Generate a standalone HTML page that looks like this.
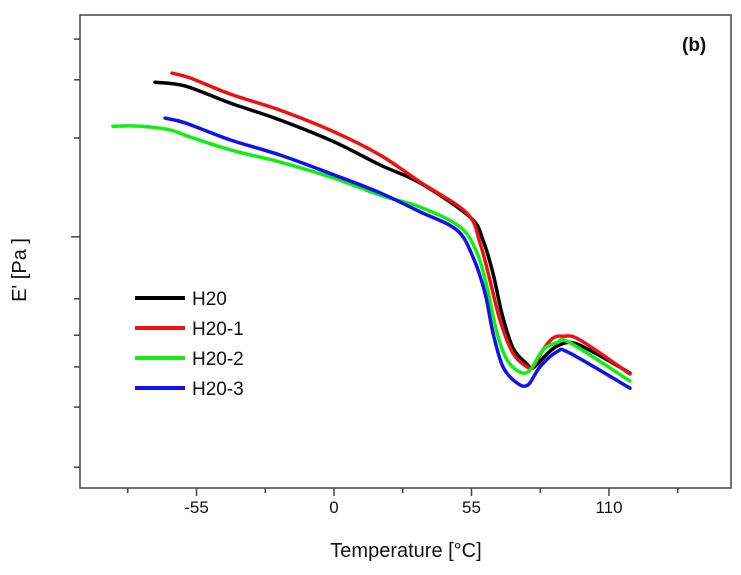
<!DOCTYPE html>
<html><head><meta charset="utf-8"><style>
body{margin:0;background:#fff;}
svg text{font-family:"Liberation Sans",sans-serif;fill:#111;}
</style></head><body>
<svg id="chart" width="741" height="570" viewBox="0 0 741 570" xmlns="http://www.w3.org/2000/svg">
<rect x="0" y="0" width="741" height="570" fill="#fff"/>
<rect x="80" y="15" width="651" height="473" fill="none" stroke="#444" stroke-width="1.5"/>
<g id="axes"></g>
<g id="series"></g>
<text x="682" y="51" font-size="19" font-weight="bold">(b)</text>
<text x="406" y="557" font-size="20" text-anchor="middle">Temperature [°C]</text>
<text transform="translate(26,270) rotate(-90)" font-size="20" text-anchor="middle">E' [Pa ]</text>
<g id="legend"></g>
</svg>
<script>
const xTickValues=[-55,0,55,110];
const xMinorTicks=[-82.5,-27.5,27.5,82.5,137.5];
const yTickValues=[94.9,86.3,74.0,53.1,40.0,32.3,25.6,17.1,4.4];
const seriesNames=["H20","H20-1","H20-2","H20-3"];
const seriesColors=["#000000","#ee1111","#11ee11","#1111ee"];
const tempH20=[-71.6,-59.6,-41.6,-21.6,0,18.4,34.4,54.4,59.6,63.6,67.2,71.6,77.2,79.6,85.2,89.2,95.6,105.2,118.4];
const valH20=[85.8,85.0,81.4,77.8,73.2,68.3,64.5,57.3,52.4,45.4,36.8,29.6,26.2,25.4,28.3,30.0,30.7,28.3,24.3];
const tempH201=[-64.8,-57.6,-41.6,-21.6,0,18.4,34.4,53.2,58.4,62.4,66.4,71.6,77.2,79.6,83.6,87.6,91.6,98.4,118.4];
const valH201=[87.7,86.7,83.3,79.9,75.3,70.4,64.7,58.1,51.8,43.9,35.5,28.5,25.6,25.6,29.2,31.7,32.1,31.3,24.1];
const tempH202=[-88.4,-77.6,-65.6,-57.6,-41.6,-21.6,0,18.4,34.4,50.4,57.2,61.2,65.2,69.2,74.4,78.4,83.6,89.2,94.4,118.4];
const valH202=[76.5,76.5,75.7,74.2,71.5,68.9,65.5,61.9,59.4,55.2,49.7,42.5,32.8,27.1,24.5,24.9,29.2,30.7,30.7,22.6];
const tempH203=[-67.6,-59.6,-41.6,-21.6,0,18.4,34.4,49.2,55.6,60.4,63.6,67.6,73.2,77.6,82.4,89.2,94.4,118.4];
const valH203=[78.2,77.2,73.6,70.4,66.2,62.4,58.4,54.5,48.8,41.2,32.8,25.6,22.2,21.8,25.6,28.8,28.5,21.1];

const NS="http://www.w3.org/2000/svg";
function xS(t){return 334+t*2.5;}
function yS(v){return 488-v*4.73;}
function mk(tag,attrs,parent){const e=document.createElementNS(NS,tag);for(const k in attrs)e.setAttribute(k,attrs[k]);parent.appendChild(e);return e;}
function smoothPath(p){
  let d='M'+p[0][0].toFixed(1)+','+p[0][1].toFixed(1);
  for(let i=0;i<p.length-1;i++){
    const p0=p[i-1]||p[i],p1=p[i],p2=p[i+1],p3=p[i+2]||p2;
    const c1=[p1[0]+(p2[0]-p0[0])/6,p1[1]+(p2[1]-p0[1])/6];
    const c2=[p2[0]-(p3[0]-p1[0])/6,p2[1]-(p3[1]-p1[1])/6];
    d+=' C'+c1.map(v=>v.toFixed(1)).join(',')+' '+c2.map(v=>v.toFixed(1)).join(',')+' '+p2[0].toFixed(1)+','+p2[1].toFixed(1);
  }
  return d;
}
const axes=document.getElementById('axes');
xTickValues.forEach(t=>{
  const l=mk('line',{x1:xS(t),x2:xS(t),y1:488,y2:496,stroke:'#444','stroke-width':1.5},axes);
  
  
  const tx=mk('text',{x:xS(t),y:513,'font-size':17,'text-anchor':'middle'},axes);
  tx.textContent=t;
  
  
});
xMinorTicks.forEach(t=>{
  const l=mk('line',{x1:xS(t),x2:xS(t),y1:488,y2:493,stroke:'#444','stroke-width':1.5},axes);
  
  
});
yTickValues.forEach((v,i)=>{
  const len=(i===3)?9:6;
  const l=mk('line',{x1:80-len,x2:80,y1:yS(v),y2:yS(v),stroke:'#444','stroke-width':1.5},axes);
  
  
});
const temps=[tempH20,tempH201,tempH202,tempH203];
const vals=[valH20,valH201,valH202,valH203];
const sg=document.getElementById('series');
seriesNames.forEach((n,i)=>{
  const pts=temps[i].map((t,j)=>[xS(t),yS(vals[i][j])]);
  const p=mk('path',{d:smoothPath(pts),fill:'none',stroke:seriesColors[i],'stroke-width':3.5,'stroke-linejoin':'round','stroke-linecap':'round'},sg);
  
  
});
const lg=document.getElementById('legend');
seriesNames.forEach((n,i)=>{
  const y=298+i*30;
  const l=mk('line',{x1:135,x2:185,y1:y,y2:y,stroke:seriesColors[i],'stroke-width':4},lg);
  
  
  const t=mk('text',{x:192,y:y+7,'font-size':19},lg);
  t.textContent=n;
  
  
});
</script>
</body></html>
